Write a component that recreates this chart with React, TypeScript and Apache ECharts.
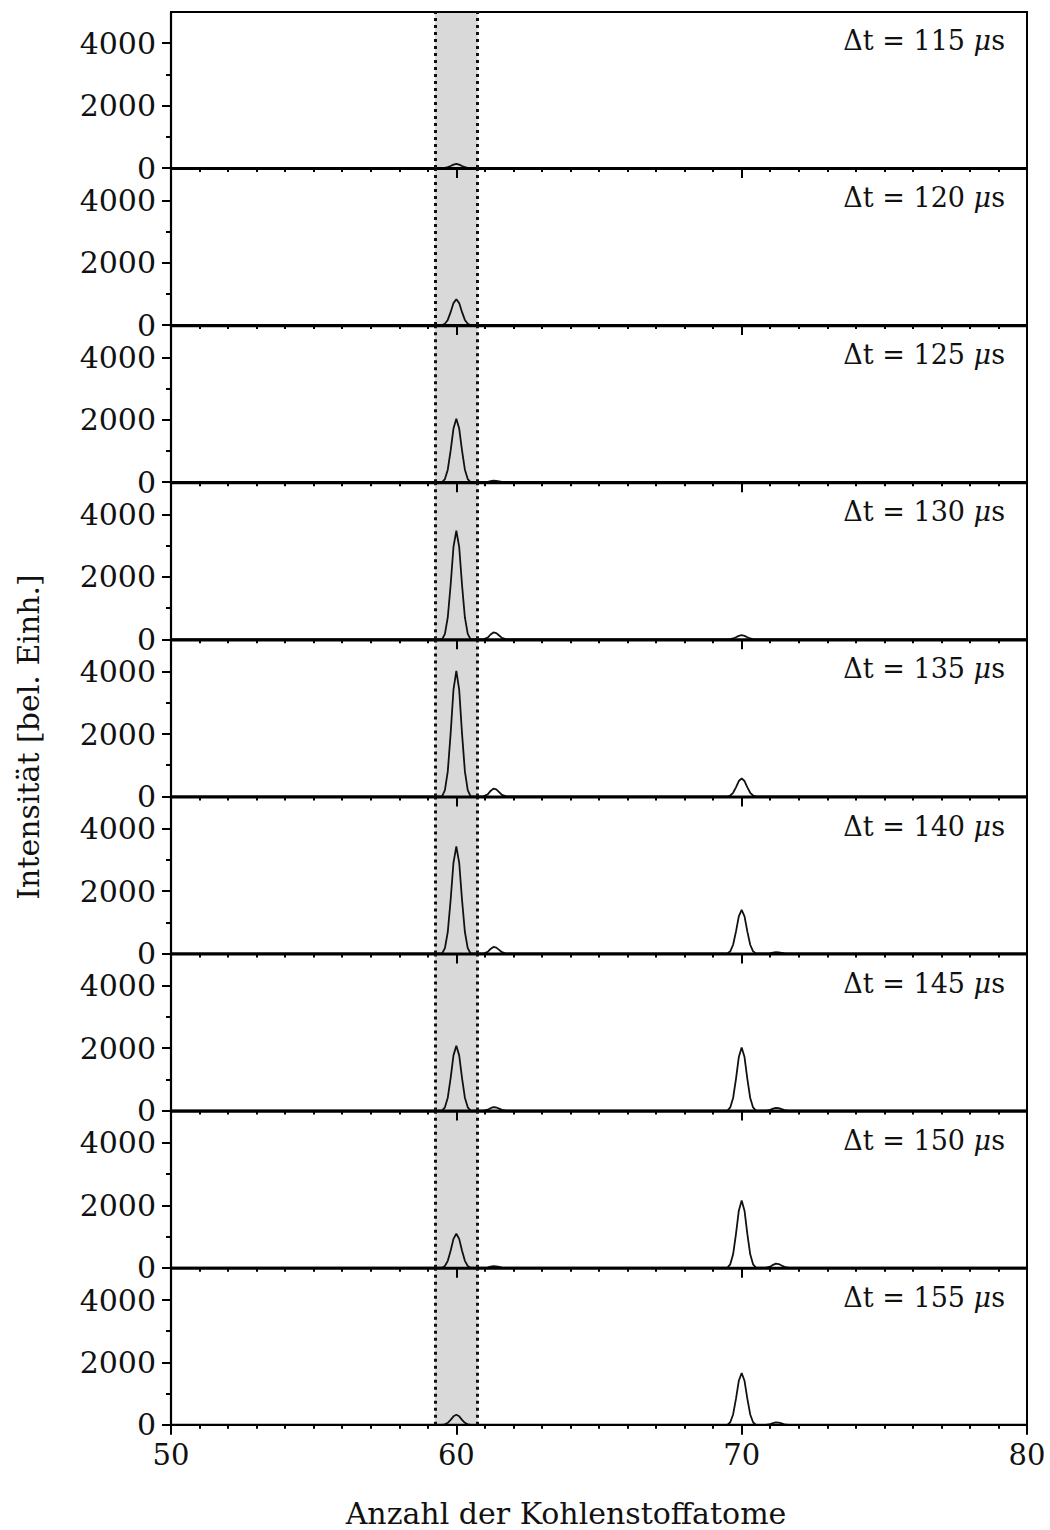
import React, { useEffect, useRef } from "react";
import * as echarts from "echarts";

// Delay times (µs) for the nine stacked panels, top to bottom
const delays = [115, 120, 125, 130, 135, 140, 145, 150, 155];

// x positions of the samples around each peak
const x60 = [59.5, 59.6, 59.7, 59.8, 59.9, 60.0, 60.1, 60.2, 60.3, 60.4, 60.5];
const x61 = [60.95, 61.1, 61.2, 61.3, 61.4, 61.5, 61.6, 61.75];
const x70 = [69.5, 69.6, 69.7, 69.8, 69.9, 70.0, 70.1, 70.2, 70.3, 70.4, 70.5];
const x71 = [70.85, 71.0, 71.1, 71.2, 71.3, 71.4, 71.5, 71.65];

// Intensities (arb. units), one row per panel
const peak60 = [
  [0, 7, 26, 65, 110, 130, 110, 65, 26, 7, 0],
  [0, 42, 166, 415, 705, 830, 705, 415, 166, 42, 0],
  [0, 100, 400, 1010, 1720, 2030, 1720, 1010, 400, 100, 0],
  [0, 175, 700, 1740, 2960, 3480, 2960, 1740, 700, 175, 0],
  [0, 200, 800, 2010, 3420, 4020, 3420, 2010, 800, 200, 0],
  [0, 170, 690, 1715, 2915, 3430, 2915, 1715, 690, 170, 0],
  [0, 105, 415, 1040, 1770, 2080, 1770, 1040, 415, 105, 0],
  [0, 55, 220, 545, 925, 1090, 925, 545, 220, 55, 0],
  [0, 16, 64, 160, 272, 320, 272, 160, 64, 16, 0],
];
const bump61 = [
  [0, 0, 0, 0, 0, 0, 0, 0],
  [0, 0, 0, 0, 0, 0, 0, 0],
  [0, 13, 35, 50, 45, 28, 10, 0],
  [0, 55, 154, 220, 198, 121, 44, 0],
  [0, 63, 175, 250, 225, 138, 50, 0],
  [0, 53, 147, 210, 189, 116, 42, 0],
  [0, 28, 77, 110, 99, 61, 22, 0],
  [0, 13, 35, 50, 45, 28, 10, 0],
  [0, 0, 0, 0, 0, 0, 0, 0],
];
const peak70 = [
  [0, 0, 0, 0, 0, 0, 0, 0, 0, 0, 0],
  [0, 0, 0, 0, 0, 0, 0, 0, 0, 0, 0],
  [0, 0, 0, 0, 0, 0, 0, 0, 0, 0, 0],
  [0, 7, 26, 65, 110, 130, 110, 65, 26, 7, 0],
  [0, 29, 116, 290, 493, 580, 493, 290, 116, 29, 0],
  [0, 70, 280, 700, 1190, 1400, 1190, 700, 280, 70, 0],
  [0, 101, 404, 1010, 1717, 2020, 1717, 1010, 404, 101, 0],
  [0, 108, 430, 1075, 1828, 2150, 1828, 1075, 430, 108, 0],
  [0, 83, 332, 830, 1411, 1660, 1411, 830, 332, 83, 0],
];
const bump71 = [
  [0, 0, 0, 0, 0, 0, 0, 0],
  [0, 0, 0, 0, 0, 0, 0, 0],
  [0, 0, 0, 0, 0, 0, 0, 0],
  [0, 0, 0, 0, 0, 0, 0, 0],
  [0, 0, 0, 0, 0, 0, 0, 0],
  [0, 10, 28, 40, 36, 22, 8, 0],
  [0, 23, 63, 90, 81, 50, 18, 0],
  [0, 33, 91, 130, 117, 72, 26, 0],
  [0, 20, 56, 80, 72, 44, 16, 0],
];

// Axes
const xMin = 50;
const xMax = 80;
const xTickLabels = [50, 60, 70, 80];
const yMax = 5000;
const yMajorTicks = [0, 2000, 4000];
const yMinorTicks = [1000, 3000];
// Highlighted C60 window
const band = [59.25, 60.75];

const FONT = "DejaVu Serif";

function zip(xs: number[], ys: number[]) {
  return xs.map((x, k) => [x, ys[k]]);
}

export default function App() {
  const ref = useRef<HTMLDivElement>(null);

  useEffect(() => {
    if (!ref.current) return;
    const chart = echarts.init(ref.current, null, { renderer: "svg" });

    const n = delays.length;
    const panelTop0 = 12;
    const step = 157.1;
    const panelH = 156;
    const left = 171;
    const right = 23;

    const grids: any[] = [];
    const xAxes: any[] = [];
    const yAxes: any[] = [];
    const series: any[] = [];
    const graphics: any[] = [];

    for (let i = 0; i < n; i++) {
      const top = panelTop0 + i * step;
      const last = i === n - 1;
      grids.push({
        left,
        right,
        top,
        height: panelH,
        show: true,
        borderColor: "#000",
        borderWidth: 2,
        backgroundColor: "transparent",
        z: 3,
      });
      xAxes.push({
        type: "value",
        gridIndex: i,
        min: xMin,
        max: xMax,
        interval: 10,
        z: 3,
        axisLine: { show: true, onZero: false, lineStyle: { color: "#000", width: 2.2 } },
        axisTick: { show: true, length: 10, lineStyle: { color: "#000", width: 2 } },
        minorTick: { show: true, splitNumber: 10, length: 4, lineStyle: { color: "#000", width: 2 } },
        splitLine: { show: false },
        minorSplitLine: { show: false },
        axisLabel: {
          show: last,
          margin: 16,
          color: "#111",
          fontFamily: FONT,
          fontSize: 29,
          customValues: xTickLabels,
          formatter: (v: number) => String(v),
        },
      });
      yAxes.push({
        type: "value",
        gridIndex: i,
        min: 0,
        max: yMax,
        z: 3,
        axisLine: { show: true, lineStyle: { color: "#000", width: 2.2 } },
        axisTick: { show: true, length: 9, customValues: yMajorTicks, lineStyle: { color: "#000", width: 2 } },
        splitLine: { show: false },
        axisLabel: {
          show: true,
          margin: 15,
          color: "#111",
          fontFamily: FONT,
          fontSize: 30,
          customValues: yMajorTicks,
          formatter: (v: number) => String(v),
        },
      });
      yAxes.push({
        type: "value",
        gridIndex: i,
        min: 0,
        max: yMax,
        position: "left",
        z: 3,
        axisLine: { show: false },
        axisTick: { show: true, length: 5, customValues: yMinorTicks, lineStyle: { color: "#000", width: 2 } },
        splitLine: { show: false },
        axisLabel: { show: false },
      });

      const data = [
        [xMin, 0],
        ...zip(x60, peak60[i]),
        ...zip(x61, bump61[i]),
        ...zip(x70, peak70[i]),
        ...zip(x71, bump71[i]),
        [xMax, 0],
      ];

      series.push({
        type: "line",
        xAxisIndex: i,
        yAxisIndex: 2 * i,
        data,
        showSymbol: false,
        symbol: "none",
        smooth: false,
        z: 2,
        lineStyle: { color: "#111", width: 1.8 },
        markArea: {
          silent: true,
          itemStyle: { color: "#d9d9d9" },
          data: [[{ xAxis: band[0] }, { xAxis: band[1] }]],
        },
        markLine: {
          silent: true,
          symbol: "none",
          label: { show: false },
          lineStyle: { color: "#111", width: 3, type: [3, 4], cap: "butt" },
          data: [{ xAxis: band[0] }, { xAxis: band[1] }],
        },
      });

      graphics.push({
        type: "text",
        right: 45,
        top: top + 15,
        z: 10,
        style: {
          text: `{n|\u0394t = ${delays[i]} }{mu|\u03bc}{n|s}`,
          rich: {
            n: { fontFamily: FONT, fontSize: 27, fill: "#111" },
            mu: { fontFamily: FONT, fontSize: 27, fontStyle: "italic", fill: "#111" },
          },
        },
      });
    }

    graphics.push({
      type: "text",
      x: 28,
      y: 737,
      rotation: Math.PI / 2,
      z: 10,
      style: {
        text: "Intensität [bel. Einh.]",
        fontFamily: FONT,
        fontSize: 30,
        fill: "#111",
        align: "center",
        verticalAlign: "middle",
      },
    });
    graphics.push({
      type: "text",
      x: 566,
      y: 1513,
      z: 10,
      style: {
        text: "Anzahl der Kohlenstoffatome",
        fontFamily: FONT,
        fontSize: 30,
        fill: "#111",
        align: "center",
        verticalAlign: "middle",
      },
    });

    chart.setOption({
      animation: false,
      backgroundColor: "#fff",
      grid: grids,
      xAxis: xAxes,
      yAxis: yAxes,
      series,
      graphic: graphics,
    });

    return () => chart.dispose();
  }, []);

  return (
    <div
      ref={ref}
      style={{ position: "absolute", left: 0, top: 0, width: 1050, height: 1530 }}
    />
  );
}
